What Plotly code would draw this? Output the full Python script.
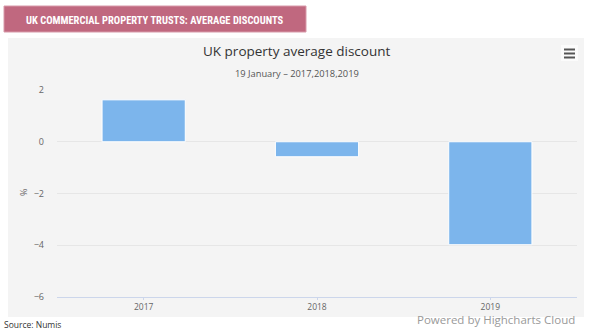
import plotly.graph_objects as go

years = ["2017", "2018", "2019"]
discounts = [1.62, -0.58, -3.98]
y_ticks = [2, 0, -2, -4, -6]

W, H = 600, 330
L, R, T, B = 57, 577, 90, 297  # plot area pixels

def px(x):
    return (x - L) / (R - L)

def py(y):
    return (B - y) / (B - T)

fig = go.Figure()
fig.add_trace(go.Bar(
    x=years, y=discounts,
    marker=dict(color="#7cb5ec", line=dict(color="#ffffff", width=1)),
    width=0.48, hoverinfo="skip",
))

shapes = [
    dict(type="rect", xref="paper", yref="paper", x0=px(8), x1=px(584), y0=py(317), y1=py(38),
         fillcolor="#f4f4f4", line=dict(width=0), layer="below"),
    dict(type="rect", xref="paper", yref="paper", x0=px(4), x1=px(306), y0=py(32), y1=py(6),
         fillcolor="#c0687f", line=dict(color="#d89aaa", width=1), layer="above"),
    dict(type="rect", xref="paper", yref="paper", x0=px(561), x1=px(578), y0=py(61), y1=py(45),
         fillcolor="#fbfbfb", line=dict(width=0), layer="above"),
]
for yy in (49.5, 53.5, 57.5):
    shapes.append(dict(type="line", xref="paper", yref="paper", x0=px(564), x1=px(575),
                       y0=py(yy), y1=py(yy), line=dict(color="#555555", width=2), layer="above"))

annotations = [
    dict(text="<b>UK COMMERCIAL PROPERTY TRUSTS: AVERAGE DISCOUNTS</b>", xref="paper", yref="paper",
         x=px(155), y=py(20), showarrow=False, xanchor="center", yanchor="middle",
         font=dict(family="Liberation Sans Narrow, Roboto Condensed, Roboto", size=10.5, color="#ffffff")),
    dict(text="UK property average discount", xref="paper", yref="paper",
         x=px(296), y=py(51), showarrow=False, xanchor="center", yanchor="middle",
         font=dict(family="Open Sans", size=13.5, color="#333333")),
    dict(text="19 January – 2017,2018,2019", xref="paper", yref="paper",
         x=px(297), y=py(73), showarrow=False, xanchor="center", yanchor="middle",
         font=dict(family="Open Sans", size=9.3, color="#555555")),
    dict(text="%", xref="paper", yref="paper", x=px(23), y=py(193), showarrow=False,
         textangle=-90, xanchor="center", yanchor="middle",
         font=dict(family="Open Sans", size=9, color="#666666")),
    dict(text="Powered by Highcharts Cloud", xref="paper", yref="paper",
         x=px(577), y=py(310), showarrow=False, xanchor="right", yanchor="top",
         font=dict(family="Open Sans", size=11.5, color="#999999")),
    dict(text="Source: Numis", xref="paper", yref="paper",
         x=px(2), y=py(317), showarrow=False, xanchor="left", yanchor="top",
         font=dict(family="Open Sans", size=8.5, color="#333333")),
]

fig.update_layout(
    width=W, height=H,
    margin=dict(l=L, r=W - R, t=T, b=H - B, pad=0),
    paper_bgcolor="#ffffff", plot_bgcolor="#f4f4f4",
    showlegend=False, bargap=0.52,
    shapes=shapes, annotations=annotations,
    xaxis=dict(type="category", showgrid=False, showline=True, linecolor="#ccd6eb", linewidth=1,
               ticks="outside", ticklen=2, tickcolor="#ccd6eb",
               tickfont=dict(family="Open Sans", size=8.5, color="#666666"), fixedrange=True),
    yaxis=dict(range=[-6, 2], tickvals=y_ticks, ticktext=[str(v).replace("-", "−") for v in y_ticks],
               showgrid=True, gridcolor="#e6e6e6", zeroline=False, showline=False,
               ticks="", ticklabelstandoff=12,
               tickfont=dict(family="Open Sans", size=9, color="#666666"), fixedrange=True),
)

fig.write_html("out.html", config={"displayModeBar": False})
